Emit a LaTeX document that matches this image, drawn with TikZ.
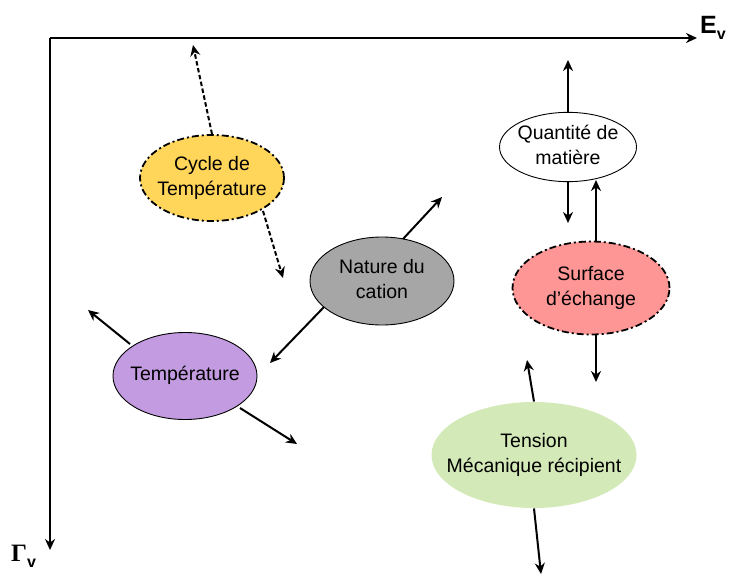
\documentclass[tikz,border=0pt]{standalone}
\usepackage{fontspec}
\setmainfont{Liberation Sans}
\newfontfamily\serifgamma{Liberation Serif}
\usetikzlibrary{shapes.geometric,arrows.meta}
\definecolor{cyc}{HTML}{FFD55A}
\definecolor{nat}{HTML}{A6A6A6}
\definecolor{tem}{HTML}{C39BE0}
\definecolor{sur}{HTML}{FF9696}
\definecolor{ten}{HTML}{D3E9B7}
\newcommand{\lbl}[1]{\makebox[0pt]{\begin{tabular}{@{}c@{}}#1\end{tabular}}}
\tikzset{
  x=1pt,y=-1pt,
  bub/.style={ellipse,draw=black,line width=0.9pt,inner sep=0pt,
    font=\fontsize{19.5}{24.5}\selectfont},
  dd/.style={dash pattern=on 7pt off 3pt on 2pt off 3pt,line width=1.8pt},
  arr/.style={-{Stealth[length=11pt,width=10pt]},line width=2pt},
  darr/.style={-{Stealth[length=11pt,width=10pt]},line width=2pt,dash pattern=on 4.5pt off 2.5pt},
}
\begin{document}
\begin{tikzpicture}
\useasboundingbox (0,0) rectangle (735,575);
% axes
\coordinate (O) at (50,38);
\coordinate (Ex) at (697,38);
\coordinate (Gy) at (50,550);
\draw[arr] (O) -- (Ex);
\draw[arr] (O) -- (Gy);
\node[anchor=west,inner sep=0pt,font=\fontsize{25}{28}\selectfont\bfseries] (Ev) at (700,28) {E\raisebox{-6pt}{\fontsize{16}{16}\selectfont v}};
\node[anchor=west,inner sep=0pt,font=\fontsize{25}{28}\selectfont\bfseries] (Gv) at (11,556) {\serifgamma Γ\raisebox{-6pt}{\fontsize{16}{16}\selectfont\normalfont\bfseries v}};
% nodes
\node[bub,dd,fill=cyc,minimum width=144pt,minimum height=86pt] (cyc) at (212,178) {\lbl{Cycle de\\Température}};
\node[bub,fill=nat,minimum width=144pt,minimum height=88pt] (nat) at (382,281) {\lbl{Nature du\\cation}};
\node[bub,fill=tem,minimum width=144pt,minimum height=87pt] (tem) at (185,376) {\lbl{Température}};
\node[bub,fill=white,minimum width=137pt,minimum height=64pt] (qua) at (568,147) {\lbl{Quantité de\\matière}};
\node[bub,dd,fill=sur,minimum width=157pt,minimum height=93pt] (sur) at (591,288) {\lbl{Surface\\d’échange}};
\node[bub,draw=none,fill=ten,minimum width=205pt,minimum height=106pt] (ten) at (534,455) {\lbl{Tension\\Mécanique récipient}};
% arrow end points
\coordinate (c1) at (193,45);
\coordinate (c2) at (283,278);
\coordinate (n1) at (442,197);
\coordinate (n2) at (270,363);
\coordinate (t1) at (88,310);
\coordinate (t2) at (297,444);
\coordinate (q1) at (568,60);
\coordinate (q2) at (568,223);
\coordinate (s1) at (596,180);
\coordinate (s2) at (596,382);
\coordinate (e1) at (527,360);
\coordinate (e2) at (541,574);
% arrows
\draw[darr] (212,134) -- (c1);
\draw[darr] (263,211) -- (c2);
\draw[arr] (403,239) -- (n1);
\draw[arr] (324,307) -- (n2);
\draw[arr] (130,344) -- (t1);
\draw[arr] (240,408) -- (t2);
\draw[arr] (qua.north) -- (q1);
\draw[arr] (qua.south) -- (q2);
\draw[arr] (596,242) -- (s1);
\draw[arr] (596,335) -- (s2);
\draw[arr] (ten.north) -- (e1);
\draw[arr] (ten.south) -- (e2);
\end{tikzpicture}
\end{document}
